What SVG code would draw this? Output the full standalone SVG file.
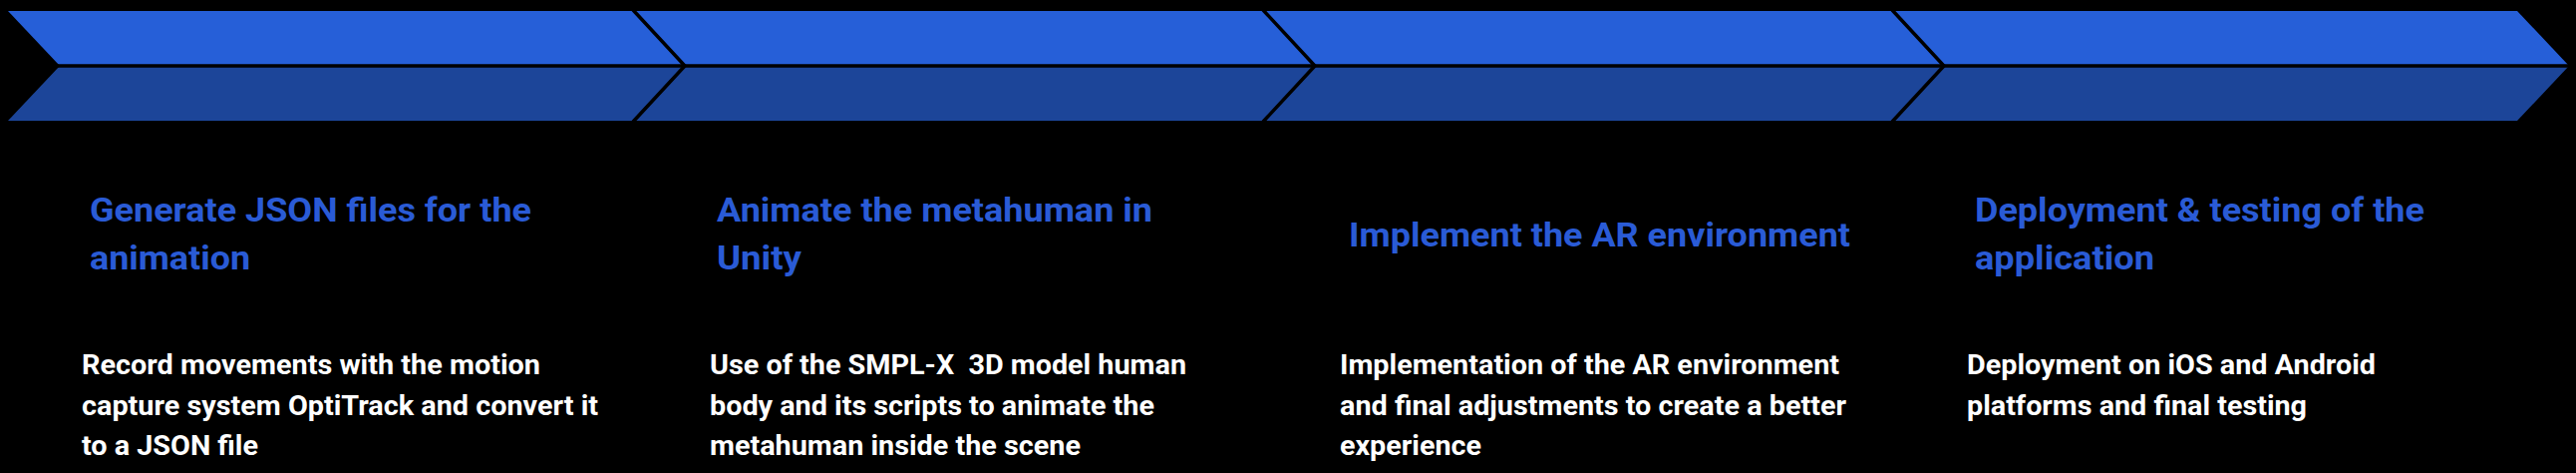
<svg xmlns="http://www.w3.org/2000/svg" width="2584" height="474" viewBox="0 0 2584 474">
<style>
.top{fill:#265FD8}
.bot{fill:#1C4599}
.sep{fill:none;stroke:#000;stroke-width:3.5;stroke-linejoin:miter}
.title{font-family:Roboto,"Liberation Sans",sans-serif;font-weight:700;font-size:33px;fill:#2A5BD6}
.body{font-family:Roboto,"Liberation Sans",sans-serif;font-weight:700;font-size:27px;fill:#FFFFFF}
</style>
<rect width="2584" height="474" fill="#000"/>
<g id="arrow">
<polygon class="top" points="8,11 2525,11 2577,66 60,66"/>
<polygon class="bot" points="60,66 2577,66 2525,121 8,121"/>
</g>
<g id="connectors">
<line class="sep" x1="0" y1="66" x2="2584" y2="66"/>
<polyline class="sep" points="635,10 687,66 635,122"/>
<polyline class="sep" points="1267,10 1319,66 1267,122"/>
<polyline class="sep" points="1898,10 1950,66 1898,122"/>
</g>
<g id="step1">
<text class="title"><tspan x="90" y="222" textLength="443" lengthAdjust="spacingAndGlyphs">Generate JSON files for the</tspan><tspan x="90" y="270" textLength="161" lengthAdjust="spacingAndGlyphs">animation</tspan></text>
<text class="body"><tspan x="82" y="375" textLength="460" lengthAdjust="spacingAndGlyphs">Record movements with the motion</tspan><tspan x="82" y="416" textLength="518" lengthAdjust="spacingAndGlyphs">capture system OptiTrack and convert it</tspan><tspan x="82" y="456" textLength="177" lengthAdjust="spacingAndGlyphs">to a JSON file</tspan></text>
</g>
<g id="step2">
<text class="title"><tspan x="719" y="222" textLength="437" lengthAdjust="spacingAndGlyphs">Animate the metahuman in</tspan><tspan x="719" y="270" textLength="85" lengthAdjust="spacingAndGlyphs">Unity</tspan></text>
<text class="body" xml:space="preserve"><tspan x="712" y="375" textLength="478" lengthAdjust="spacingAndGlyphs">Use of the SMPL-X  3D model human</tspan><tspan x="712" y="416" textLength="446" lengthAdjust="spacingAndGlyphs">body and its scripts to animate the</tspan><tspan x="712" y="456" textLength="372" lengthAdjust="spacingAndGlyphs">metahuman inside the scene</tspan></text>
</g>
<g id="step3">
<text class="title"><tspan x="1353" y="247" textLength="503" lengthAdjust="spacingAndGlyphs">Implement the AR environment</tspan></text>
<text class="body"><tspan x="1344" y="375" textLength="501" lengthAdjust="spacingAndGlyphs">Implementation of the AR environment</tspan><tspan x="1344" y="416" textLength="508" lengthAdjust="spacingAndGlyphs">and final adjustments to create a better</tspan><tspan x="1344" y="456" textLength="142" lengthAdjust="spacingAndGlyphs">experience</tspan></text>
</g>
<g id="step4">
<text class="title"><tspan x="1981" y="222" textLength="451" lengthAdjust="spacingAndGlyphs">Deployment &amp; testing of the</tspan><tspan x="1981" y="270" textLength="180" lengthAdjust="spacingAndGlyphs">application</tspan></text>
<text class="body"><tspan x="1973" y="375" textLength="410" lengthAdjust="spacingAndGlyphs">Deployment on iOS and Android</tspan><tspan x="1973" y="416" textLength="341" lengthAdjust="spacingAndGlyphs">platforms and final testing</tspan></text>
</g>
</svg>
